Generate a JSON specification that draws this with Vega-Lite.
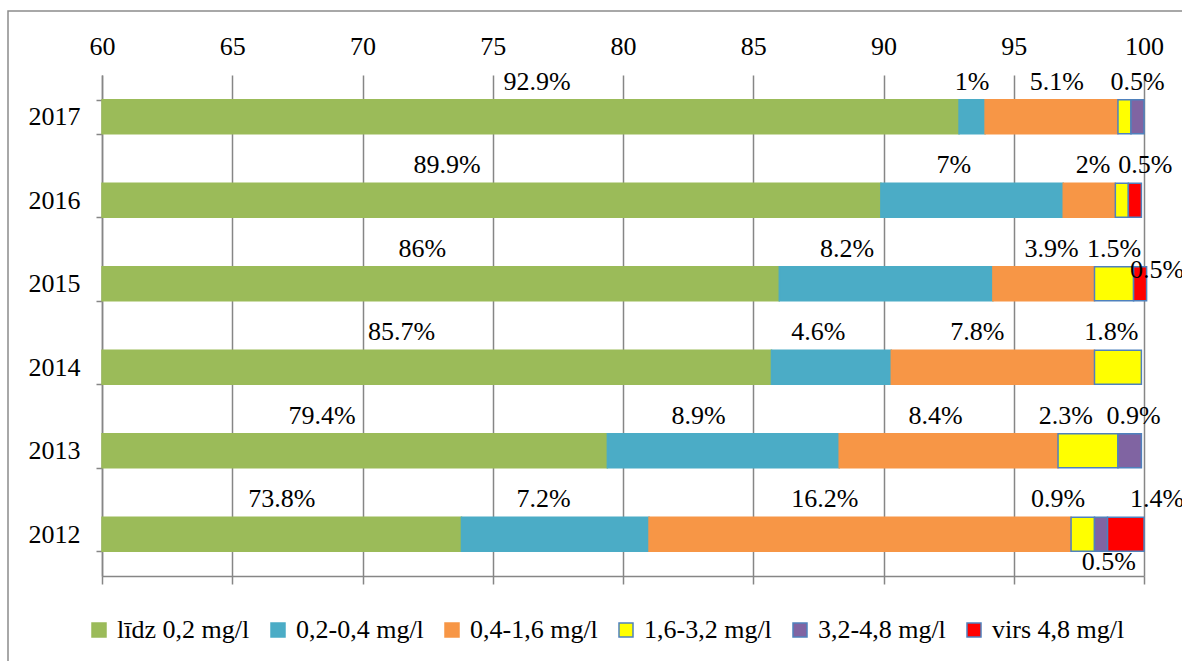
{
  "$schema": "https://vega.github.io/schema/vega-lite/v6.json",
  "width": 1176,
  "height": 652,
  "autosize": {"type": "none"},
  "padding": {"left": 8, "top": 11, "right": 0, "bottom": 0},
  "background": "white",
  "config": {
    "view": {"stroke": "#8c8c8c", "strokeWidth": 1.5},
    "axis": {
      "labelFont": "Liberation Serif, Times New Roman, Times, serif",
      "labelFontSize": 26,
      "labelColor": "#000000",
      "domainColor": "#868686",
      "domainWidth": 1.5,
      "tickColor": "#868686",
      "tickWidth": 1.5,
      "gridColor": "#868686",
      "gridWidth": 1.5,
      "gridOpacity": 1,
      "title": null
    }
  },
  "data": {
    "values": [
      {"year": "2017", "cat": "līdz 0,2 mg/l", "value": 92.9},
      {"year": "2017", "cat": "0,2-0,4 mg/l", "value": 1},
      {"year": "2017", "cat": "0,4-1,6 mg/l", "value": 5.1},
      {"year": "2017", "cat": "1,6-3,2 mg/l", "value": 0.5},
      {"year": "2017", "cat": "3,2-4,8 mg/l", "value": 0.5},
      {"year": "2016", "cat": "līdz 0,2 mg/l", "value": 89.9},
      {"year": "2016", "cat": "0,2-0,4 mg/l", "value": 7},
      {"year": "2016", "cat": "0,4-1,6 mg/l", "value": 2},
      {"year": "2016", "cat": "1,6-3,2 mg/l", "value": 0.5},
      {"year": "2016", "cat": "virs 4,8 mg/l", "value": 0.5},
      {"year": "2015", "cat": "līdz 0,2 mg/l", "value": 86},
      {"year": "2015", "cat": "0,2-0,4 mg/l", "value": 8.2},
      {"year": "2015", "cat": "0,4-1,6 mg/l", "value": 3.9},
      {"year": "2015", "cat": "1,6-3,2 mg/l", "value": 1.5},
      {"year": "2015", "cat": "virs 4,8 mg/l", "value": 0.5},
      {"year": "2014", "cat": "līdz 0,2 mg/l", "value": 85.7},
      {"year": "2014", "cat": "0,2-0,4 mg/l", "value": 4.6},
      {"year": "2014", "cat": "0,4-1,6 mg/l", "value": 7.8},
      {"year": "2014", "cat": "1,6-3,2 mg/l", "value": 1.8},
      {"year": "2013", "cat": "līdz 0,2 mg/l", "value": 79.4},
      {"year": "2013", "cat": "0,2-0,4 mg/l", "value": 8.9},
      {"year": "2013", "cat": "0,4-1,6 mg/l", "value": 8.4},
      {"year": "2013", "cat": "1,6-3,2 mg/l", "value": 2.3},
      {"year": "2013", "cat": "3,2-4,8 mg/l", "value": 0.9},
      {"year": "2012", "cat": "līdz 0,2 mg/l", "value": 73.8},
      {"year": "2012", "cat": "0,2-0,4 mg/l", "value": 7.2},
      {"year": "2012", "cat": "0,4-1,6 mg/l", "value": 16.2},
      {"year": "2012", "cat": "1,6-3,2 mg/l", "value": 0.9},
      {"year": "2012", "cat": "3,2-4,8 mg/l", "value": 0.5},
      {"year": "2012", "cat": "virs 4,8 mg/l", "value": 1.4}
    ]
  },
  "transform": [
    {"calculate": "indexof(['līdz 0,2 mg/l','0,2-0,4 mg/l','0,4-1,6 mg/l','1,6-3,2 mg/l','3,2-4,8 mg/l','virs 4,8 mg/l'], datum.cat)", "as": "k"},
    {"stack": "value", "groupby": ["year"], "sort": [{"field": "k", "order": "ascending"}], "as": ["x0", "x1"]},
    {"calculate": "max(datum.x0, 60)", "as": "xs"},
    {"calculate": "{'2017-0': 0.25, '2017-2': 0.2, '2016-0': -1.7, '2016-1': -0.7, '2016-2': 0.15, '2016-5': 0.4, '2015-0': -0.7, '2015-1': -1.5, '2015-2': 0.3, '2015-5': 0.65, '2014-0': -1.35, '2014-1': -0.5, '2014-2': -0.6, '2014-3': -0.25, '2013-0': -1.25, '2013-1': -0.95, '2013-2': -0.5, '2013-3': -0.85, '2013-4': 0.15, '2012-1': -0.45, '2012-2': -1.35, '2012-3': -0.95, '2012-4': 0.3, '2012-5': 1.2}[datum.year + '-' + datum.k] || 0", "as": "nudge"},
    {"calculate": "(datum.xs + datum.x1) / 2 + datum.nudge", "as": "lx"},
    {"calculate": "format(datum.value, '.1~f') + '%'", "as": "lbl"}
  ],
  "encoding": {
    "y": {
      "field": "year",
      "type": "nominal",
      "sort": "descending",
      "scale": {"range": [64, 565], "paddingInner": 0.59, "paddingOuter": 0.295},
      "axis": {"orient": "left", "offset": -94, "tickBand": "extent", "tickSize": 6, "labelPadding": 16, "grid": false, "domain": true, "ticks": true, "labels": true}
    }
  },
  "layer": [
    {
      "mark": {"type": "bar", "strokeWidth": 1.5},
      "encoding": {
        "x": {
          "field": "xs",
          "type": "quantitative",
          "scale": {"domain": [60, 100], "range": [94, 1136], "nice": false, "zero": false},
          "axis": {"orient": "top", "offset": -64, "values": [60, 65, 70, 75, 80, 85, 90, 95, 100], "domain": false, "ticks": false, "grid": true, "labelPadding": 16, "labelFlush": false}
        },
        "x2": {"field": "x1"},
        "color": {
          "field": "cat",
          "type": "nominal",
          "scale": {
            "domain": ["līdz 0,2 mg/l", "0,2-0,4 mg/l", "0,4-1,6 mg/l", "1,6-3,2 mg/l", "3,2-4,8 mg/l", "virs 4,8 mg/l"],
            "range": ["#9BBB59", "#4BACC6", "#F79646", "#FFFF00", "#8064A2", "#FF0000"]
          },
          "legend": {
            "title": null,
            "orient": "none",
            "legendX": 78,
            "legendY": 606,
            "direction": "horizontal",
            "columns": 6,
            "symbolType": "square",
            "symbolSize": 196,
            "symbolStrokeWidth": 1.5,
            "symbolOpacity": 1,
            "labelOffset": 5,
            "columnPadding": 15,
            "padding": 0,
            "labelFont": "Liberation Serif, Times New Roman, Times, serif",
            "labelFontSize": 26,
            "labelColor": "#000000",
            "labelLimit": 400
          }
        },
        "stroke": {
          "field": "cat",
          "type": "nominal",
          "scale": {
            "domain": ["līdz 0,2 mg/l", "0,2-0,4 mg/l", "0,4-1,6 mg/l", "1,6-3,2 mg/l", "3,2-4,8 mg/l", "virs 4,8 mg/l"],
            "range": ["#9BBB59", "#4BACC6", "#F79646", "#4F81BD", "#4F81BD", "#4F81BD"]
          },
          "legend": null
        }
      }
    },
    {
      "transform": [
        {"filter": "!((datum.year == '2017' || datum.year == '2016') && datum.k == 3) && !(datum.year == '2012' && datum.k == 4) && !(datum.year == '2015' && datum.k == 5)"}
      ],
      "mark": {"type": "text", "dy": -35, "font": "Liberation Serif, Times New Roman, Times, serif", "fontSize": 26, "color": "#000000", "baseline": "middle"},
      "encoding": {
        "x": {
          "field": "lx",
          "type": "quantitative",
          "axis": {"orient": "bottom", "offset": -87, "labels": false, "domain": true, "ticks": true, "tickSize": 8, "grid": false, "values": [60, 65, 70, 75, 80, 85, 90, 95, 100]}
        },
        "text": {"field": "lbl"}
      }
    },
    {
      "transform": [
        {"filter": "datum.year == '2012' && datum.k == 4"}
      ],
      "mark": {"type": "text", "dy": 28, "font": "Liberation Serif, Times New Roman, Times, serif", "fontSize": 26, "color": "#000000", "baseline": "middle"},
      "encoding": {
        "x": {"field": "lx", "type": "quantitative", "axis": null},
        "text": {"field": "lbl"}
      }
    },
    {
      "transform": [
        {"filter": "datum.year == '2015' && datum.k == 5"}
      ],
      "mark": {"type": "text", "dy": -14, "font": "Liberation Serif, Times New Roman, Times, serif", "fontSize": 26, "color": "#000000", "baseline": "middle"},
      "encoding": {
        "x": {"field": "lx", "type": "quantitative", "axis": null},
        "text": {"field": "lbl"}
      }
    }
  ]
}
